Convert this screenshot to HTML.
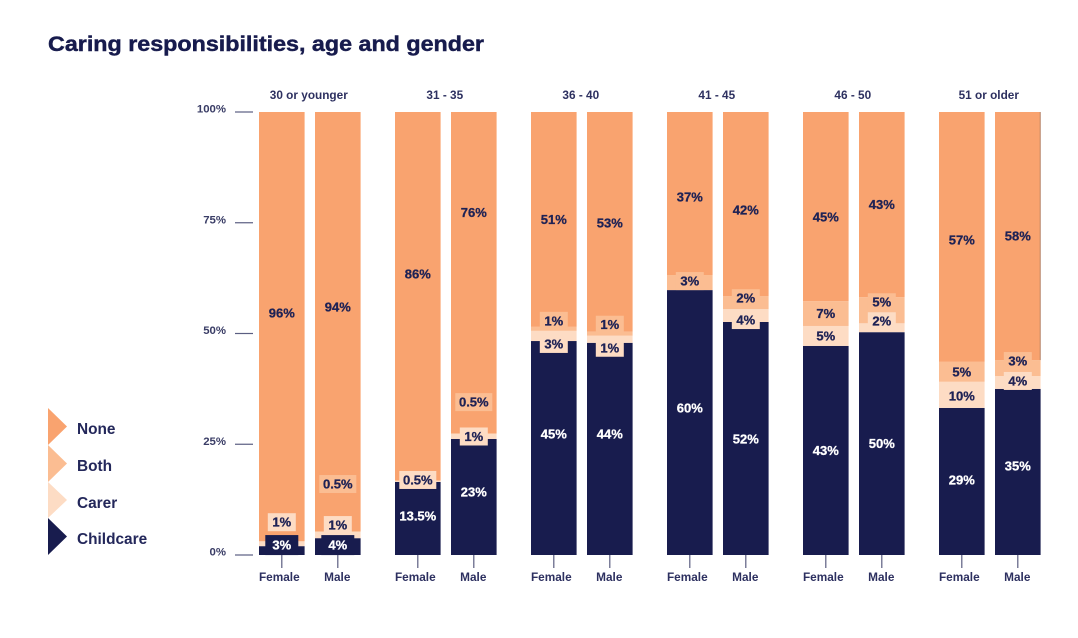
<!DOCTYPE html>
<html lang="en">
<head>
<meta charset="utf-8">
<title>Caring responsibilities, age and gender</title>
<style>
html,body{margin:0;padding:0;background:#fff;}
body{width:1078px;height:638px;overflow:hidden;}
svg{display:block;font-family:"Liberation Sans",Arial,sans-serif;}
text{font-weight:700;}
</style>
</head>
<body>
<svg id="chart" width="1078" height="638" viewBox="0 0 1078 638" xmlns="http://www.w3.org/2000/svg">
  <rect x="0" y="0" width="1078" height="638" fill="#fff"/>
  <text x="48" y="51" font-size="21" fill="#171b4d" stroke="#171b4d" stroke-width="0.45" textLength="436" lengthAdjust="spacingAndGlyphs">Caring responsibilities, age and gender</text>
  <g>
    <g>
      <polygon points="48,408 67,426.5 48,445" fill="#f9a36f"/>
      <text x="77" y="434" font-size="15.4" fill="#23275a">None</text>
    </g>
    <g>
      <polygon points="48,445 67,463.5 48,482" fill="#fbbd92"/>
      <text x="77" y="471" font-size="15.4" fill="#23275a">Both</text>
    </g>
    <g>
      <polygon points="48,482 67,500 48,518" fill="#fddcc4"/>
      <text x="77" y="508" font-size="15.4" fill="#23275a">Carer</text>
    </g>
    <g>
      <polygon points="48,518 67,536.5 48,555" fill="#181c4e"/>
      <text x="77" y="544" font-size="15.4" fill="#23275a">Childcare</text>
    </g>
  </g>
</svg>
<script>
// ---- Chart data (order: each age group, Female then Male) ----
const ageGroups = ["30 or younger", "31 - 35", "36 - 40", "41 - 45", "46 - 50", "51 or older"];
const genders = ["Female", "Male"];
const yTicks = [0, 25, 50, 75, 100];

// Drawn segment sizes (% of bar height)
const childcare = [2.0, 3.8, 16.5, 26.2, 48.3, 47.9, 59.8, 52.6, 47.2, 50.3, 33.2, 37.5];
const carer = [1.1, 1.4, 0.2, 1.1, 2.3, 1.6, 0, 2.9, 4.5, 2.0, 5.9, 2.9];
const both = [0, 0.2, 0.2, 0.2, 0.9, 0.9, 3.4, 2.9, 5.6, 5.9, 4.5, 3.6];
const none = [96.9, 94.6, 83.1, 72.5, 48.5, 49.6, 36.8, 41.6, 42.7, 41.8, 56.4, 56.0];

// Printed values
const childcareLabels = ["3", "4", "13.5", "23", "45", "44", "60", "52", "43", "50", "29", "35"];
const carerLabels = ["1", "1", "0.5", "1", "3", "1", null, "4", "5", "2", "10", "4"];
const bothLabels = [null, "0.5", null, "0.5", "1", "1", "3", "2", "7", "5", "5", "3"];
const noneLabels = ["96", "94", "86", "76", "51", "53", "37", "42", "45", "43", "57", "58"];

// ---- Layout ----
const SVG_NS = "http://www.w3.org/2000/svg";
const svg = document.getElementById("chart");
const BASELINE = 555, PX_PER_PCT = 4.43;
const GROUP_LEFT = 259, GROUP_STEP = 136, BAR_W = 45.6, BAR_STEP = 56;
const yScale = v => BASELINE - v * PX_PER_PCT;
const barX = i => GROUP_LEFT + Math.floor(i / 2) * GROUP_STEP + (i % 2) * BAR_STEP;

// Label placement tweaks relative to each segment's centre (pixels), by bar: childcare, carer, both, none
const labelTweaks = [
  [-5.5, -21.5, 0, -13.5], [-1.5, -10, -47.5, -14.5],
  [-2.5, -1.5, 0, -22], [-5, 0, -31.5, -60],
  [-14, 8, -8, 0], [-15, 8.5, -9, 1],
  [-14.5, 0, -1.5, 3.5], [0.5, 4.5, -4.5, 6],
  [0, 0, 0, 10.5], [0, -6.5, -8, 0],
  [-1.5, 1, 0, 3], [-6, -1.5, -7, 0]
];

const seriesNames = ["childcare", "carer", "both", "none"];
const seriesValues = [childcare, carer, both, none];
const seriesLabels = [childcareLabels, carerLabels, bothLabels, noneLabels];
const seriesFill = ["#181c4e", "#fddcc4", "#fbbd92", "#f9a36f"];
const seriesInk = ["#ffffff", "#1e2255", "#1e2255", "#1e2255"];

function node(tag, parent, props) {
  const el = document.createElementNS(SVG_NS, tag);
  for (const k in props) el.setAttribute(k, props[k]);
  parent.appendChild(el);
  return el;
}

// Y axis
const yAxis = node("g", svg, {});


yTicks.forEach(t => {
  const y = yScale(t);
  const mark = node("rect", yAxis, { x: 235, y: y - 0.6, width: 18, height: 1.2, fill: "#5b5e82" });
  
  
  const lab = node("text", yAxis, { x: 226, y: y + 0.5, "text-anchor": "end", "font-size": 11.4, fill: "#3a3d66" });
  
  
  lab.textContent = t + "%";
});

// Group headers
ageGroups.forEach((g, gi) => {
  const cx = barX(gi * 2) + (BAR_STEP + BAR_W) / 2 - 1;
  const head = node("text", svg, { x: cx, y: 99, "text-anchor": "middle", "font-size": 11.8, fill: "#2d3060" });
  
  
  head.textContent = g;
});

// Bars
const barLayer = node("g", svg, {});


const labelLayer = node("g", svg, {});



childcare.forEach((_, i) => {
  const x = barX(i);
  const cx = x + BAR_W / 2;
  let acc = 0;
  const placed = [];
  seriesValues.forEach((vals, s) => {
    const y0 = yScale(acc), y1 = yScale(acc + vals[i]);
    acc += vals[i];
    if (vals[i] > 0) {
      const seg = node("rect", barLayer, { x: x, y: y1, width: BAR_W, height: y0 - y1, fill: seriesFill[s] });
      
      
    }
    const text = seriesLabels[s][i];
    if (text !== null) {
      placed.push({ s: s, text: text, y0: y0, y1: y1, cy: (y0 + y1) / 2 + labelTweaks[i][s] });
    }
    // The final bar's "none" segment has a thin darker right edge in the source artwork
    if (i === childcare.length - 1 && s === 3) {
      const edge = node("rect", barLayer, { x: x + BAR_W - 0.8, y: y1, width: 0.8, height: y0 - y1, fill: "#a8755a" });
      
      
    }
  });

  // Badges sit behind the printed value whenever it spills out of its segment
  placed.forEach(p => {
    const h = p.s === 0 ? 20 : 18;
    const top = p.cy - h / 2, bottom = p.cy + h / 2;
    if (top < p.y1 || bottom > p.y0) {
      const w = p.text.length > 2 ? 37 : (p.s === 0 ? 33 : 28);
      const badge = node("rect", labelLayer, { x: cx - w / 2, y: top, width: w, height: h, fill: seriesFill[p.s] });
      
      
    }
  });
  placed.forEach(p => {
    const lab = node("text", labelLayer, { x: cx, y: p.cy + 4.5, "text-anchor": "middle", "font-size": 13, fill: seriesInk[p.s], stroke: seriesInk[p.s], "stroke-width": 0.3 });
    
    
    lab.textContent = p.text + "%";
  });

  // Gender tick + label
  const tick = node("rect", svg, { x: cx - 0.6, y: BASELINE, width: 1.2, height: 13, fill: "#5b5e82" });
  
  
  const gl = node("text", svg, { x: cx + (i % 2 ? -0.5 : -2.5), y: 581, "text-anchor": "middle", "font-size": 11.8, fill: "#2d3060" });
  
  
  gl.textContent = genders[i % 2];
});
</script>
</body>
</html>
